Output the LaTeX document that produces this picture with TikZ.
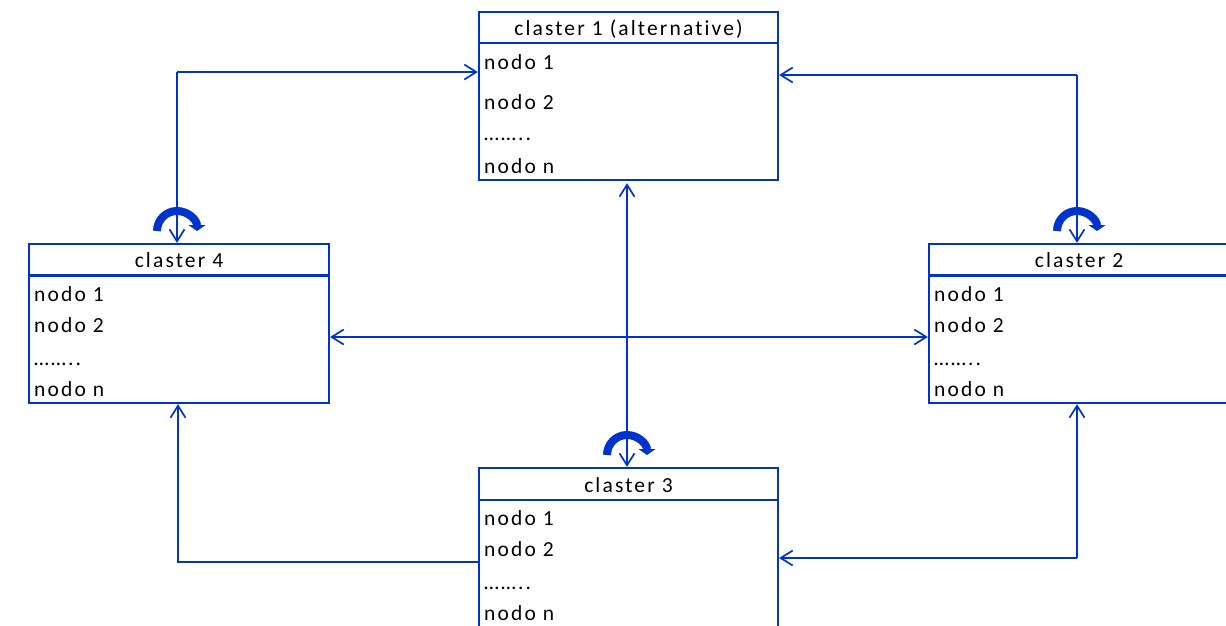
\documentclass[tikz,border=0pt]{standalone}
\usepackage{fontspec}
\setmainfont{Carlito}[LetterSpace=10, Ligatures=NoCommon]
\usetikzlibrary{arrows.meta}
\definecolor{uml}{RGB}{0,51,204}
\tikzset{
  box/.style={draw=uml, line width=2.2pt, rectangle, inner sep=0pt},
  sep/.style={draw=uml, line width=2.2pt},
  hdr/.style={font=\fontsize{21.5}{25}\selectfont, anchor=base, inner sep=0pt},
  item/.style={font=\fontsize{21.5}{25}\selectfont, anchor=base west, inner sep=0pt},
  conn/.style={draw=uml, line width=1.7pt},
  tip/.style={conn, -{Straight Barb[length=12pt,width=15pt,line width=1.7pt]}},
  tips/.style={conn, {Straight Barb[length=12pt,width=15pt,line width=1.7pt]}-{Straight Barb[length=12pt,width=15pt,line width=1.7pt]}},
  selfloop/.style={draw=uml, line width=8pt, -{Triangle[length=6pt,width=17pt]}},
}
\begin{document}
\begin{tikzpicture}[x=1pt, y=-1pt]
\useasboundingbox (0,0) rectangle (1226,625);
\clip (0,0) rectangle (1226,625);

% class boxes
\node[box, minimum width=299pt, minimum height=168pt] (c1) at (628.5,96) {};
\node[box, minimum width=300pt, minimum height=159pt] (c4) at (179,323.5) {};
\node[box, minimum width=300pt, minimum height=159pt] (c2) at (1079,323.5) {};
\node[box, minimum width=299pt, minimum height=176pt] (c3) at (628.5,556) {};

% header separators
\draw[sep] (c1.west |- 0,43) -- (c1.east |- 0,43);
\draw[sep] (c4.west |- 0,275.5) -- (c4.east |- 0,275.5);
\draw[sep] (c2.west |- 0,275.5) -- (c2.east |- 0,275.5);
\draw[sep] (c3.west |- 0,500) -- (c3.east |- 0,500);

% headers
\node[hdr] (h1) at (628.5,35) {claster 1 (alternative)};
\node[hdr] (h4) at (179,267) {claster 4};
\node[hdr] (h2) at (1079,267) {claster 2};
\node[hdr] (h3) at (628.5,492) {claster 3};

% attribute lists
\node[item] (c1a) at (484,69) {nodo 1};
\node[item] (c1b) at (484,109) {nodo 2};
\node[item] (c1c) at (484,140) {……..};
\node[item] (c1n) at (484,173) {nodo n};

\node[item] (c4a) at (34,301) {nodo 1};
\node[item] (c4b) at (34,332) {nodo 2};
\node[item] (c4c) at (34,365) {……..};
\node[item] (c4n) at (34,396) {nodo n};

\node[item] (c2a) at (934,301) {nodo 1};
\node[item] (c2b) at (934,332) {nodo 2};
\node[item] (c2c) at (934,365) {……..};
\node[item] (c2n) at (934,396) {nodo n};

\node[item] (c3a) at (484,525) {nodo 1};
\node[item] (c3b) at (484,556) {nodo 2};
\node[item] (c3c) at (484,589) {……..};
\node[item] (c3n) at (484,620) {nodo n};

% corner points of the routed connectors
\coordinate (tl) at (177,72);
\coordinate (tr) at (1077,75);
\coordinate (bl) at (178,562);
\coordinate (br) at (1077,558);
\coordinate (mid) at (0,337);
\coordinate (axis) at (627,0);

% connectors
\draw[tip] (tl) -- (c1.west |- tl);
\draw[tip] (tl) -- (tl |- c4.north);
\draw[tip] (tr) -- (c1.east |- tr);
\draw[tip] (tr) -- (tr |- c2.north);
\draw[tips] ([yshift=-2pt]axis |- c1.south) -- (axis |- c3.north);
\draw[tips] (c4.east |- mid) -- (c2.west |- mid);
\draw[tip] (c3.west |- bl) -- (bl) -- (bl |- c4.south);
\draw[tip] (br) -- (c3.east |- br);
\draw[tip] (br) -- (br |- c2.south);

% self-association markers
\draw[selfloop] (157,231) arc[start angle=180, end angle=360, radius=20];
\draw[selfloop] (1057,231) arc[start angle=180, end angle=360, radius=20];
\draw[selfloop] (607,455) arc[start angle=180, end angle=360, radius=20];
\end{tikzpicture}
\end{document}
